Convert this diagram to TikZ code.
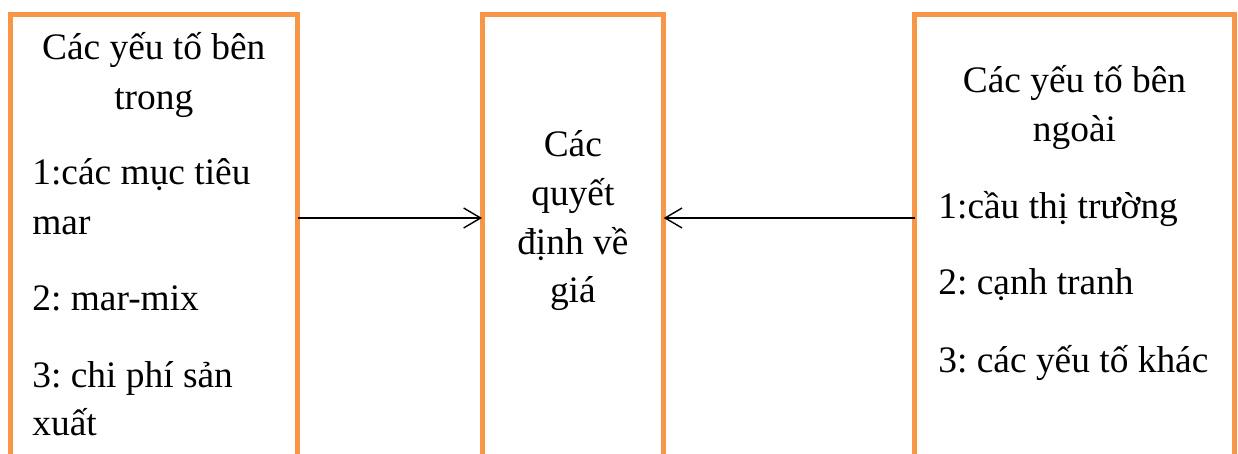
\documentclass[tikz,border=0pt]{standalone}
\usepackage{fontspec}
\setmainfont{Liberation Serif}
\usetikzlibrary{arrows.meta}
\definecolor{boxorange}{HTML}{F79646}
\frenchspacing
\tikzset{
  box/.style={draw=boxorange, line width=2.5pt, rectangle, inner sep=0pt, outer sep=0pt, fill=white},
  txt/.style={font=\fontsize{18.7pt}{22pt}\selectfont, inner sep=0pt, anchor=base},
  txtl/.style={txt, anchor=base west},
  conn/.style={line width=0.7pt, -{Straight Barb[length=8.5pt, width=10pt, line width=0.7pt]}}
}
\begin{document}
\begin{tikzpicture}[x=0.5pt, y=-0.5pt]
\useasboundingbox (0,0) rectangle (1238,454);
\clip (0,0) rectangle (1238,454);
% boxes (they continue below the picture's lower edge)
\node[box, minimum width=143.75pt, minimum height=242.75pt] (L) at (153.75,257.25) {};
\node[box, minimum width=90.85pt, minimum height=242.75pt] (M) at (572.85,257.25) {};
\node[box, minimum width=160pt, minimum height=242.75pt] (R) at (1074.5,257.25) {};
% left texts
\node[txt] (l1) at (153.75,60) {Các yếu tố bên};
\node[txt] (l2) at (153.75,110) {trong};
\node[txtl] (l3) at (32,185) {1:các mục tiêu};
\node[txtl] (l4) at (32,235) {mar};
\node[txtl] (l5) at (32,311) {2: mar-mix};
\node[txtl] (l6) at (32,387) {3: chi phí sản};
\node[txtl] (l7) at (32,436) {xuất};
% middle texts
\node[txt] (m1) at (572.85,157) {Các};
\node[txt] (m2) at (572.85,206) {quyết};
\node[txt] (m3) at (572.85,255) {định về};
\node[txt] (m4) at (572.85,303) {giá};
% right texts
\node[txt] (r1) at (1074.5,93) {Các yếu tố bên};
\node[txt] (r2) at (1074.5,142) {ngoài};
\node[txtl] (r3) at (938,219) {1:cầu thị trường};
\node[txtl] (r4) at (938,295) {2: cạnh tranh};
\node[txtl] (r5) at (938,372) {3: các yếu tố khác};
% connectors
\coordinate (ay) at (0,218);
\draw[conn] (L.east |- ay) -- (M.west |- ay);
\draw[conn] (R.west |- ay) -- (M.east |- ay);
\end{tikzpicture}
\end{document}
